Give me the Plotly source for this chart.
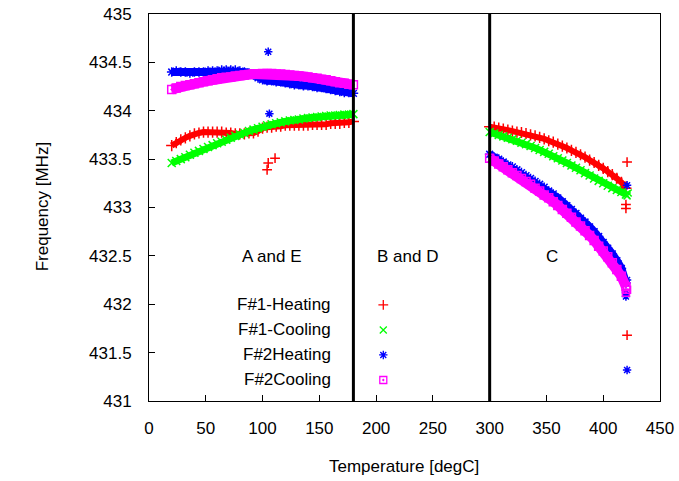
import plotly.graph_objects as go

# ---------------- data ----------------
temps_A = list(range(20, 181, 4))   # region A and E
temps_C = list(range(300, 421, 4))  # region C

f1_heat_A = [433.64, 433.67, 433.70, 433.72, 433.74, 433.76, 433.77, 433.78, 433.78, 433.78,
             433.78, 433.78, 433.77, 433.77, 433.76, 433.76, 433.76, 433.77, 433.77, 433.79,
             433.82, 433.83, 433.83, 433.84, 433.84, 433.85, 433.85, 433.85, 433.85, 433.85,
             433.85, 433.86, 433.86, 433.86, 433.86, 433.87, 433.87, 433.87, 433.88, 433.88, 433.89]
f1_cool_A = [433.46, 433.48, 433.50, 433.52, 433.545, 433.565, 433.585, 433.605, 433.625, 433.645,
             433.665, 433.68, 433.70, 433.72, 433.74, 433.755, 433.77, 433.79, 433.805, 433.82,
             433.835, 433.85, 433.86, 433.87, 433.88, 433.89, 433.90, 433.905, 433.91, 433.92,
             433.925, 433.93, 433.935, 433.94, 433.945, 433.95, 433.95, 433.955, 433.96, 433.96, 433.965]
f2_heat_A = [434.40, 434.41, 434.40, 434.40, 434.39, 434.40, 434.40, 434.40, 434.41, 434.41,
             434.41, 434.42, 434.42, 434.42, 434.42, 434.41, 434.40, 434.39, 434.37, 434.34,
             434.32, 434.31, 434.31, 434.30, 434.30, 434.29, 434.28, 434.27, 434.27, 434.26,
             434.26, 434.25, 434.24, 434.24, 434.23, 434.22, 434.21, 434.20, 434.19, 434.19, 434.18]
f2_cool_A = [434.22, 434.235, 434.25, 434.26, 434.27, 434.28, 434.29, 434.30, 434.31, 434.32,
             434.33, 434.34, 434.345, 434.35, 434.36, 434.365, 434.37, 434.375, 434.38, 434.38,
             434.385, 434.385, 434.385, 434.38, 434.38, 434.375, 434.37, 434.365, 434.36, 434.355,
             434.35, 434.34, 434.335, 434.325, 434.32, 434.31, 434.30, 434.29, 434.285, 434.275, 434.27]

f1_heat_C = [433.835, 433.83, 433.82, 433.81, 433.80, 433.79, 433.78, 433.775, 433.765, 433.75,
             433.74, 433.725, 433.71, 433.69, 433.675, 433.655, 433.635, 433.615, 433.59, 433.57,
             433.545, 433.52, 433.49, 433.465, 433.435, 433.405, 433.37, 433.34, 433.30, 433.26, 433.20]
f1_cool_C = [433.78, 433.765, 433.75, 433.735, 433.72, 433.705, 433.69, 433.67, 433.655, 433.635,
             433.615, 433.595, 433.575, 433.555, 433.53, 433.51, 433.485, 433.46, 433.435, 433.41,
             433.385, 433.355, 433.33, 433.30, 433.275, 433.25, 433.225, 433.20, 433.18, 433.16, 433.135]
f2_heat_C = [433.55, 433.52, 433.50, 433.47, 433.44, 433.42, 433.39, 433.36, 433.33, 433.30,
             433.27, 433.24, 433.21, 433.17, 433.14, 433.10, 433.06, 433.02, 432.98, 432.94,
             432.89, 432.85, 432.80, 432.75, 432.70, 432.64, 432.58, 432.52, 432.45, 432.37, 432.22]
f2_cool_C = [433.51, 433.48, 433.45, 433.42, 433.39, 433.36, 433.33, 433.30, 433.27, 433.24,
             433.20, 433.17, 433.13, 433.10, 433.06, 433.02, 432.98, 432.94, 432.90, 432.85,
             432.81, 432.76, 432.71, 432.66, 432.60, 432.55, 432.49, 432.43, 432.36, 432.29, 432.18]

# isolated points
f1_heat_out_T = [104, 105, 111, 421, 420, 420, 421]
f1_heat_out_f = [433.39, 433.46, 433.51, 433.47, 433.03, 432.99, 431.68]
f1_cool_out_T = [421, 422]
f1_cool_out_f = [433.12, 433.15]
f2_heat_out_T = [105, 106, 421, 421, 420, 420, 421]
f2_heat_out_f = [434.61, 433.97, 433.23, 432.25, 432.08, 432.12, 431.32]
f2_cool_out_T = [420, 421]
f2_cool_out_f = [432.12, 432.15]

series_names = ["F#1-Heating", "F#1-Cooling", "F#2Heating", "F#2Cooling"]
series_colors = ["#ff0000", "#00ff00", "#0000ff", "#ff00ff"]
series_symbols = ["cross-thin-open", "x-thin-open", "asterisk-open", "square-open-dot"]
band_widths = [6, 7, 8, 10]

region_bounds = [180, 300]
region_labels = ["A and E", "B and D", "C"]
region_label_T = [108, 228, 355]
region_label_f = 432.49

x_ticks = list(range(0, 451, 50))
y_ticks = [431, 431.5, 432, 432.5, 433, 433.5, 434, 434.5, 435]
y_tick_text = ["431", "431.5", "432", "432.5", "433", "433.5", "434", "434.5", "435"]

# legend key placement (plot-area fractions)
legend_text_x = 0.3605
legend_key_x = 0.4585
legend_rows_y = [0.2483, 0.1836, 0.1190, 0.0543]

# ---------------- figure ----------------
FONT = "Liberation Sans, Arial, sans-serif"
fig = go.Figure()

A_sets = [f1_heat_A, f1_cool_A, f2_heat_A, f2_cool_A]
C_sets = [f1_heat_C, f1_cool_C, f2_heat_C, f2_cool_C]
out_T = [f1_heat_out_T, f1_cool_out_T, f2_heat_out_T, f2_cool_out_T]
out_f = [f1_heat_out_f, f1_cool_out_f, f2_heat_out_f, f2_cool_out_f]

for i in range(4):
    xs = temps_A + [None] + temps_C
    ys = A_sets[i] + [None] + C_sets[i]
    fig.add_trace(go.Scatter(
        x=xs, y=ys, mode="lines+markers", name=series_names[i], showlegend=False,
        line=dict(color=series_colors[i], width=band_widths[i]),
        marker=dict(symbol=series_symbols[i], size=8, color=series_colors[i],
                    line=dict(color=series_colors[i], width=1.5)),
    ))
    fig.add_trace(go.Scatter(
        x=out_T[i], y=out_f[i], mode="markers", showlegend=False,
        marker=dict(symbol=series_symbols[i], size=7, color=series_colors[i],
                    line=dict(color=series_colors[i], width=1.5)),
    ))

# legend keys on an overlay axis in plot-area fractions
for i in range(4):
    fig.add_trace(go.Scatter(
        x=[legend_key_x], y=[legend_rows_y[i]], mode="markers", xaxis="x2", yaxis="y2",
        showlegend=False, hoverinfo="skip",
        marker=dict(symbol=series_symbols[i], size=7, color=series_colors[i],
                    line=dict(color=series_colors[i], width=1.3)),
    ))
    fig.add_annotation(x=legend_text_x, y=legend_rows_y[i], xref="paper", yref="paper",
                       text=series_names[i], showarrow=False, xanchor="right", yanchor="middle",
                       font=dict(family=FONT, size=17, color="black"))

for b in region_bounds:
    fig.add_shape(type="line", x0=b, x1=b, xref="x", y0=0, y1=1, yref="paper",
                  line=dict(color="black", width=3))

for lbl, t in zip(region_labels, region_label_T):
    fig.add_annotation(x=t, y=region_label_f, xref="x", yref="y", text=lbl, showarrow=False,
                       xanchor="center", yanchor="middle",
                       font=dict(family=FONT, size=17, color="black"))

fig.add_annotation(x=0.499, y=-0.1705, xref="paper", yref="paper", text="Temperature [degC]",
                   showarrow=False, xanchor="center", yanchor="middle",
                   font=dict(family=FONT, size=17, color="black"))
fig.add_annotation(x=-0.209, y=0.501, xref="paper", yref="paper", text="Frequency [MHz]",
                   showarrow=False, xanchor="center", yanchor="middle", textangle=-90,
                   font=dict(family=FONT, size=17, color="black"))

fig.update_layout(
    width=679, height=481,
    margin=dict(l=149, r=19, t=14, b=80, autoexpand=False),
    paper_bgcolor="white", plot_bgcolor="white",
    font=dict(family=FONT, size=17, color="black"),
    showlegend=False,
    xaxis=dict(range=[0, 450], tickvals=x_ticks, ticks="inside", ticklen=6, tickcolor="black",
               showline=True, linecolor="black", linewidth=1, mirror=True, showgrid=False,
               zeroline=False, ticklabelstandoff=12, tickfont=dict(size=17), automargin=False),
    yaxis=dict(range=[431, 435], tickvals=y_ticks, ticktext=y_tick_text, ticks="inside",
               ticklen=6, tickcolor="black", showline=True, linecolor="black", linewidth=1,
               mirror=True, showgrid=False, zeroline=False, ticklabelstandoff=13,
               tickfont=dict(size=17), automargin=False),
    xaxis2=dict(range=[0, 1], overlaying="x", visible=False, fixedrange=True),
    yaxis2=dict(range=[0, 1], overlaying="y", visible=False, fixedrange=True),
)

fig.write_html("out.html", config={"displayModeBar": False},
               post_script="document.body.style.margin='0';document.body.style.overflow='hidden';")
